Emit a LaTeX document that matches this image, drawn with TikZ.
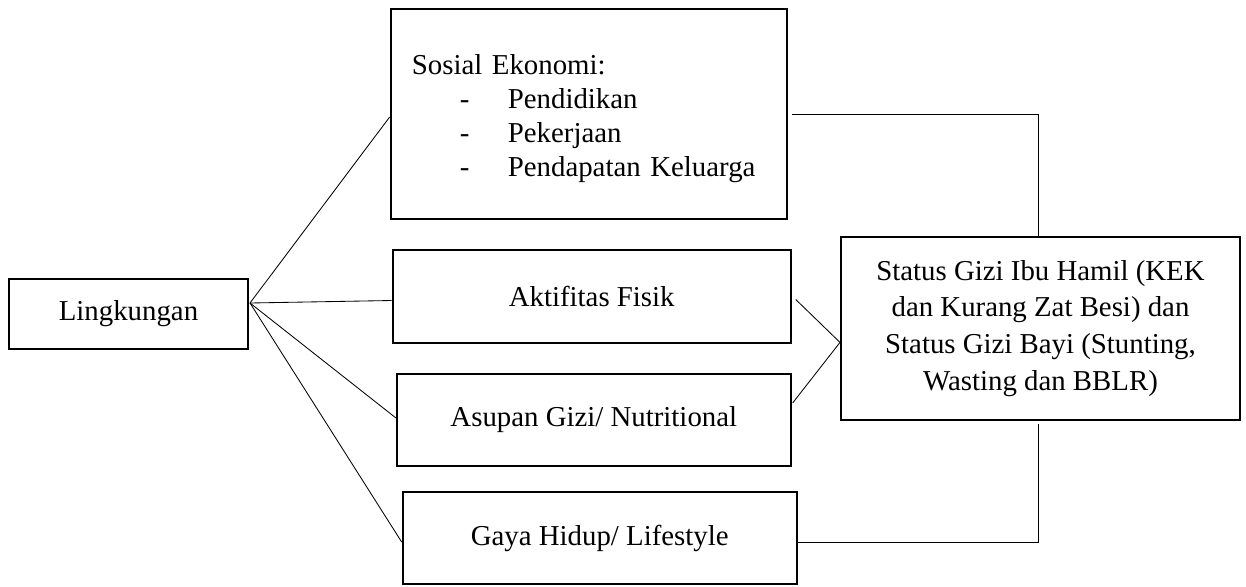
\documentclass[tikz,border=0pt]{standalone}
\usepackage{fontspec}
\setmainfont{Liberation Serif}
\usetikzlibrary{positioning,calc}

\begin{document}
\begin{tikzpicture}[
  x=0.025cm, y=-0.025cm,
  box/.style={rectangle, draw, line width=1.4pt, align=center, font=\fontsize{20.5}{24.2}\selectfont},
  link/.style={line width=0.6pt},
]
\useasboundingbox (0,0) rectangle (1246,586);

% === Source (left) ===
\node[box, minimum width=5.975cm, minimum height=1.75cm] (ling) at (128.5,314) {Lingkungan};
\coordinate (hub) at (250,303);

% === Factors (middle) ===
\node[box, minimum width=9.9cm, minimum height=5.25cm, inner xsep=0.53cm, text width=8.84cm, align=left] (sosek) at (588.7,114) {%
  \rule{0pt}{21pt}Sosial Ekonomi:\\
  \hspace*{1.2cm}\makebox[1.2cm][l]{-}Pendidikan\\
  \hspace*{1.2cm}\makebox[1.2cm][l]{-}Pekerjaan\\
  \hspace*{1.2cm}\makebox[1.2cm][l]{-}Pendapatan Keluarga
};
\node[box, minimum width=9.95cm, minimum height=2.325cm] (akt) at (591.7,296.5) {Aktifitas Fisik};
\node[box, minimum width=9.84cm, minimum height=2.3cm] (asup) at (593.8,420) {Asupan Gizi/ Nutritional};
\node[box, minimum width=9.85cm, minimum height=2.3cm] (gaya) at (599.7,538) {Gaya Hidup/ Lifestyle};

% === Outcome (right) ===
\node[box, minimum width=9.975cm, minimum height=4.58cm, font=\fontsize{20.5}{26.1}\selectfont] (status) at (1040.5,328.4) {%
  Status Gizi Ibu Hamil (KEK\\
  dan Kurang Zat Besi) dan\\
  Status Gizi Bayi (Stunting,\\
  Wasting dan BBLR)
};
\coordinate (meet) at ($(status.west)+(0,14)$);

% === Connectors ===
\draw[link] (hub) -- ($(sosek.west)+(0,3)$);
\draw[link] (hub) -- ($(akt.west)+(0,4)$);
\draw[link] (hub) -- ($(asup.west)+(0,-2)$);
\draw[link] (hub) -- ($(gaya.west)+(0,4)$);

\draw[link] ($(sosek.east)+(4,0)$) -| ($(status.north)+(-2,0)$);
\draw[link] ($(akt.east)+(4,3)$) -- (meet);
\draw[link] ($(asup.east)+(1,-17)$) -- (meet);
\draw[link] ($(gaya.east)+(0,4)$) -| ($(status.south)+(-2,3)$);

\end{tikzpicture}
\end{document}
